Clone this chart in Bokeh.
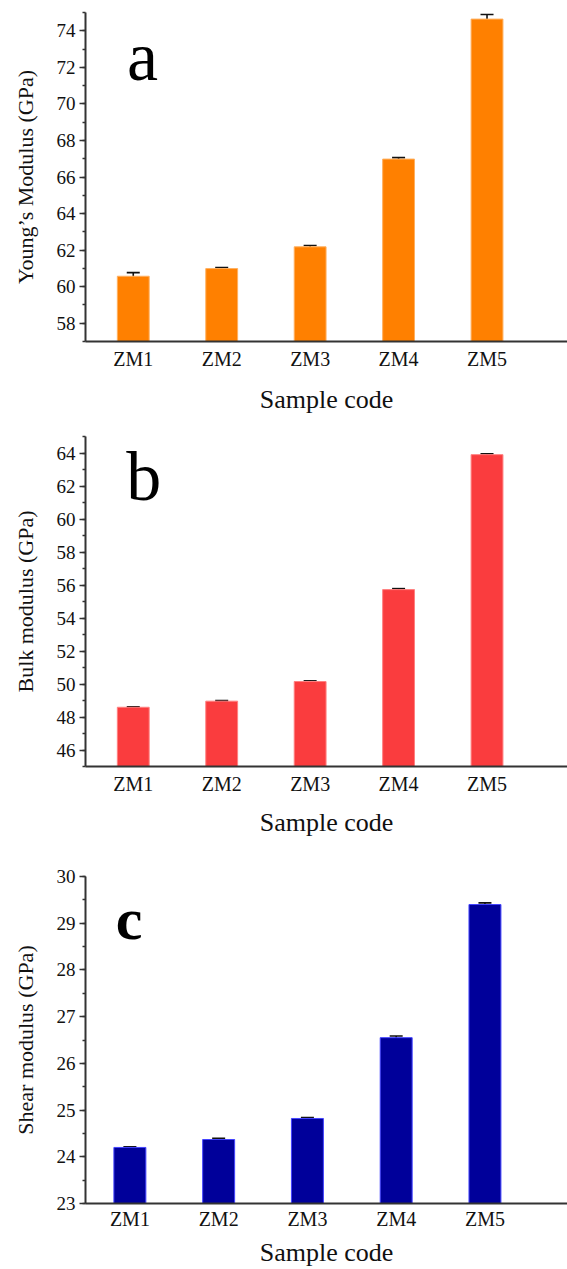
from bokeh.plotting import figure
from bokeh.layouts import column
from bokeh.models import (ColumnDataSource, Whisker, TeeHead, Label, Range1d,
                          FixedTicker, SingleIntervalTicker)
from bokeh.embed import file_html
from bokeh.resources import INLINE

# ---------------- data ----------------
categories = ["ZM1", "ZM2", "ZM3", "ZM4", "ZM5"]
positions = [1, 2, 3, 4, 5]

young_values = [60.57, 60.99, 62.18, 66.98, 74.64]
young_errors = [0.20, 0.05, 0.07, 0.08, 0.25]

bulk_values = [48.59, 48.96, 50.15, 55.72, 63.90]
bulk_errors = [0.03, 0.04, 0.04, 0.06, 0.05]

shear_values = [24.20, 24.37, 24.82, 26.55, 29.40]
shear_errors = [0.015, 0.025, 0.02, 0.035, 0.035]

FONT = "Liberation Serif"


def make_panel(values, errors, color, edge, ylabel, letter, letter_xy,
               letter_size, yrange, yinterval, xrange, height, borders,
               letter_bold, standoffs, line_h):
    top, bottom, left = borders
    p = figure(width=567, height=height, output_backend="svg",
               toolbar_location=None, x_range=Range1d(*xrange),
               y_range=Range1d(*yrange),
               min_border_top=top, min_border_bottom=bottom,
               min_border_left=left, min_border_right=0)
    p.outline_line_color = None
    p.xgrid.visible = False
    p.ygrid.visible = False

    lows = [v - e for v, e in zip(values, errors)]
    highs = [v + e for v, e in zip(values, errors)]
    src = ColumnDataSource(dict(x=positions, top=values, lo=lows, hi=highs))

    p.vbar(x="x", top="top", bottom=yrange[0], width=0.36, source=src,
           fill_color=color, line_color=edge, line_width=1)
    w = Whisker(base="x", lower="lo", upper="hi", source=src,
                line_color="#111111", line_width=1.6,
                upper_head=TeeHead(size=13, line_color="#111111", line_width=1.6),
                lower_head=TeeHead(size=13, line_color="#111111", line_width=1.6))
    p.add_layout(w)

    # x axis
    xa = p.xaxis[0]
    xa.ticker = FixedTicker(ticks=positions, minor_ticks=[])
    xa.major_label_overrides = {pos: c for pos, c in zip(positions, categories)}
    xa.major_tick_line_color = None
    xa.minor_tick_line_color = None
    xa.major_tick_in = 0
    xa.major_tick_out = 0
    xa.axis_label = "Sample code"
    xa.axis_label_text_font = FONT
    xa.axis_label_text_font_style = "normal"
    xa.axis_label_text_font_size = "26px"
    xa.axis_label_text_color = "#111111"
    xa.axis_label_text_line_height = line_h
    xa.axis_label_standoff = standoffs[1]
    xa.major_label_text_font = FONT
    xa.major_label_text_font_size = "20px"
    xa.major_label_text_color = "#111111"
    xa.major_label_text_line_height = line_h
    xa.major_label_standoff = standoffs[0]
    xa.axis_line_width = 2
    xa.axis_line_color = "#333333"

    # y axis
    ya = p.yaxis[0]
    ya.ticker = SingleIntervalTicker(interval=yinterval, num_minor_ticks=2)
    ya.axis_label = ylabel
    ya.axis_label_text_font = FONT
    ya.axis_label_text_font_style = "normal"
    ya.axis_label_text_font_size = "22px"
    ya.axis_label_text_color = "#111111"
    ya.axis_label_standoff = 16
    ya.major_label_text_font = FONT
    ya.major_label_text_font_size = "19px"
    ya.major_label_text_color = "#111111"
    ya.major_label_standoff = 4
    ya.major_tick_in = 0
    ya.major_tick_out = 6
    ya.minor_tick_in = 0
    ya.minor_tick_out = 3
    ya.major_tick_line_width = 1.5
    ya.minor_tick_line_width = 1.5
    ya.major_tick_line_color = "#333333"
    ya.minor_tick_line_color = "#333333"
    ya.axis_line_width = 2
    ya.axis_line_color = "#333333"

    lab = Label(x=letter_xy[0], y=letter_xy[1], text=letter,
                text_font=FONT, text_font_size=letter_size,
                text_font_style="bold" if letter_bold else "normal",
                text_color="#000000", text_align="left",
                text_baseline="alphabetic")
    p.add_layout(lab)
    return p


pa = make_panel(young_values, young_errors, "#FF8000", "#FFB060",
                "Young\u2019s Modulus (GPa)", "a", (0.93, 72.6), "70px",
                (57, 75), 2, (0.46, 5.91), 420, (12, 79, 84), False, (6, 12), 1.0)
pb = make_panel(bulk_values, bulk_errors, "#FA3C3E", "#FF8080",
                "Bulk modulus (GPa)", "b", (0.92, 62.55), "70px",
                (45, 65), 2, (0.46, 5.91), 420, (16, 74, 83), False, (6, 10), 1.0)
pc = make_panel(shear_values, shear_errors, "#00009A", "#4444FF",
                "Shear modulus (GPa)", "c", (0.84, 29.1), "60px",
                (23, 30), 1, (0.5, 5.93), 429, (36, 64, 85), True, (4, 5), 0.85)

layout = column(pa, pb, pc, spacing=0)

with open("out.html", "w") as f:
    f.write(file_html(layout, INLINE))
